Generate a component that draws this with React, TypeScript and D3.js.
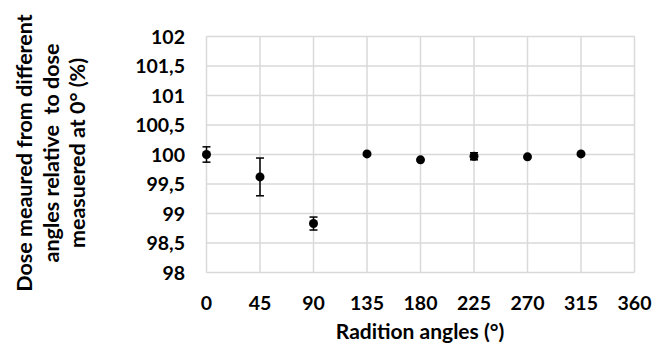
import React, { useEffect, useRef } from 'react';
import * as d3 from 'd3';

const angles = [0, 45, 90, 135, 180, 225, 270, 315];
const doses = [100.0, 99.62, 98.83, 100.01, 99.91, 99.97, 99.96, 100.01];
const errors = [0.13, 0.32, 0.11, 0.0, 0.0, 0.06, 0.0, 0.0];
const xTicks = [0, 45, 90, 135, 180, 225, 270, 315, 360];
const yTicks = [98, 98.5, 99, 99.5, 100, 100.5, 101, 101.5, 102];
const yTitleLines = ['Dose meaured from different', 'angles relative  to dose', 'measuered at 0° (%)'];

const W = 654;
const H = 345;
const FONT = 'Lato, "Open Sans", sans-serif';

export default function App() {
  const ref = useRef<SVGSVGElement>(null);

  useEffect(() => {
    const svg = d3.select(ref.current);
    svg.selectAll('*').remove();

    const x = d3.scaleLinear().domain([0, 360]).range([206.5, 634.5]);
    const y = d3.scaleLinear().domain([98, 102]).range([272.5, 36.5]);

    const grid = svg.append('g');
    grid.selectAll('.hg')
      .data(yTicks)
      .enter().append('line')
      .attr('x1', x(0)).attr('x2', x(360))
      .attr('y1', d => y(d)).attr('y2', d => y(d))
      .attr('stroke', '#d9d9d9').attr('stroke-width', 1.5);
    grid.selectAll('.vg')
      .data(xTicks)
      .enter().append('line')
      .attr('x1', d => x(d)).attr('x2', d => x(d))
      .attr('y1', y(98)).attr('y2', y(102))
      .attr('stroke', '#d9d9d9').attr('stroke-width', 1.5);

    // tick labels
    svg.append('g').selectAll('text')
      .data(yTicks)
      .enter().append('text')
      .attr('x', 185).attr('y', d => y(d))
      .attr('dy', '0.36em')
      .attr('text-anchor', 'end')
      .attr('font-family', FONT).attr('font-weight', 'bold').attr('font-size', 19.5)
      .attr('fill', '#000')
      .text(d => String(d).replace('.', ','));

    svg.append('g').selectAll('text')
      .data(xTicks)
      .enter().append('text')
      .attr('x', d => x(d)).attr('y', 302.5)
      .attr('dy', '0.36em')
      .attr('text-anchor', 'middle')
      .attr('font-family', FONT).attr('font-weight', 'bold').attr('font-size', 19.5)
      .attr('fill', '#000')
      .text(d => d);

    // axis titles
    svg.append('text')
      .attr('x', 420).attr('y', 339)
      .attr('text-anchor', 'middle')
      .attr('font-family', FONT).attr('font-weight', 'bold').attr('font-size', 21)
      .text('Radition angles (°)');

    const yt = svg.append('text')
      .attr('transform', 'translate(0,153) rotate(-90)')
      .attr('text-anchor', 'middle')
      .attr('font-family', FONT).attr('font-weight', 'bold').attr('font-size', 21.5)
      .style('white-space', 'pre');
    yTitleLines.forEach((l, i) => {
      yt.append('tspan').attr('x', 0).attr('y', 32 + i * 26.5).text(l);
    });

    const data = angles.map((a, i) => ({ a, v: doses[i], e: errors[i] }));

    // error bars
    const eb = svg.append('g').attr('stroke', '#000').attr('stroke-width', 1.5);
    data.filter(d => d.e > 0).forEach(d => {
      eb.append('line')
        .attr('x1', x(d.a)).attr('x2', x(d.a))
        .attr('y1', y(d.v + d.e)).attr('y2', y(d.v - d.e));
      [d.v + d.e, d.v - d.e].forEach(v => {
        eb.append('line')
          .attr('x1', x(d.a) - 4).attr('x2', x(d.a) + 4)
          .attr('y1', y(v)).attr('y2', y(v));
      });
    });

    svg.append('g').selectAll('circle')
      .data(data)
      .enter().append('circle')
      .attr('cx', d => x(d.a)).attr('cy', d => y(d.v))
      .attr('r', 4.5)
      .attr('fill', '#000');
  }, []);

  return (
    <svg ref={ref} width={W} height={H}
      style={{ position: 'absolute', left: 0, top: 0, background: '#fff' }} />
  );
}
